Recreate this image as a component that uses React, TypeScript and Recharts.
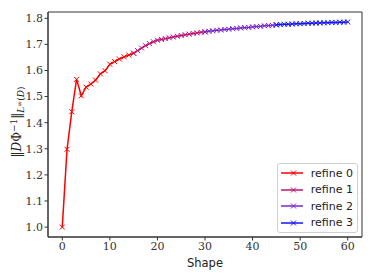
import React from "react";
import { LineChart, Line, XAxis, YAxis, ReferenceArea } from "recharts";

const refine0X = [0, 1, 2, 3, 4, 5, 6, 7, 8, 9, 10, 11, 12, 13, 14, 15];
const refine0Y = [1.0, 1.298, 1.442, 1.566, 1.503, 1.536, 1.548, 1.563, 1.587, 1.599, 1.624, 1.634, 1.644, 1.652, 1.659, 1.666];

const refine1X = [15, 15.83, 16.67, 17.5, 18.33, 19.17, 20, 20.83, 21.67, 22.5, 23.33, 24.17, 25, 25.83, 26.67, 27.5, 28.33, 29.17, 30];
const refine1Y = [1.666, 1.676, 1.686, 1.695, 1.703, 1.71, 1.716, 1.719, 1.722, 1.725, 1.728, 1.731, 1.734, 1.737, 1.739, 1.742, 1.744, 1.746, 1.748];

const refine2X = [30, 30.83, 31.67, 32.5, 33.33, 34.17, 35, 35.83, 36.67, 37.5, 38.33, 39.17, 40, 40.83, 41.67, 42.5, 43.33, 44.17, 45];
const refine2Y = [1.748, 1.75, 1.752, 1.754, 1.755, 1.757, 1.758, 1.76, 1.761, 1.763, 1.764, 1.765, 1.767, 1.768, 1.769, 1.771, 1.772, 1.773, 1.775];

const refine3X = [45, 45.83, 46.67, 47.5, 48.33, 49.17, 50, 50.83, 51.67, 52.5, 53.33, 54.17, 55, 55.83, 56.67, 57.5, 58.33, 59.17, 60];
const refine3Y = [1.775, 1.776, 1.777, 1.777, 1.778, 1.779, 1.779, 1.78, 1.781, 1.781, 1.782, 1.782, 1.783, 1.783, 1.784, 1.784, 1.785, 1.785, 1.786];

const seriesNames = ["refine 0", "refine 1", "refine 2", "refine 3"];
const seriesColors = ["#ff0000", "#bd1675", "#7a27cc", "#1414ff"];
const seriesX = [refine0X, refine1X, refine2X, refine3X];
const seriesY = [refine0Y, refine1Y, refine2Y, refine3Y];

const xTicks = [0, 10, 20, 30, 40, 50, 60];
const yTicks = [1.0, 1.1, 1.2, 1.3, 1.4, 1.5, 1.6, 1.7, 1.8];
const xDomain = [-3, 63];
const yDomain = [0.962, 1.824];

const series = seriesNames.map((name, i) => ({
  name,
  color: seriesColors[i],
  data: seriesX[i].map((x, j) => ({ x, y: seriesY[i][j] })),
}));

const makeDot = (color: string, name: string) => (props: any) => {
  const { cx, cy, index } = props;
  if (cx == null || cy == null) return <g key={`${name}-${index}`} />;
  const s = 2.5;
  return (
    <path
      key={`${name}-${index}`}
      d={`M${cx - s},${cy - s}L${cx + s},${cy + s}M${cx - s},${cy + s}L${cx + s},${cy - s}`}
      stroke={color}
      strokeWidth={1}
      fill="none"
    />
  );
};

const tickFont = { fontFamily: "DejaVu Serif", fontSize: 11, fill: "#333" };

const YLabel = () => (
  <text
    transform="rotate(-90)"
    x={-122}
    y={21}
    textAnchor="middle"
    fontFamily="DejaVu Serif"
    fontSize={12}
    fill="#222"
  >
    ‖<tspan fontStyle="italic">D</tspan>Φ
    <tspan dy={-4.5} fontSize={9}>−1</tspan>
    <tspan dy={4.5}>‖</tspan>
    <tspan dy={3} fontSize={9} fontStyle="italic">L</tspan>
    <tspan dy={-2.5} fontSize={7}>∞</tspan>
    <tspan dy={2.5} fontSize={9}>(</tspan>
    <tspan fontSize={9} fontStyle="italic">D</tspan>
    <tspan fontSize={9}>)</tspan>
  </text>
);

const LegendBox = () => (
  <div
    style={{
      position: "absolute",
      left: 277,
      top: 163,
      border: "1px solid #d0d0d0",
      borderRadius: 3,
      background: "rgba(255,255,255,0.85)",
      padding: "1px 4px 1px 3px",
      width: 72,
      boxSizing: "content-box",
    }}
  >
    {series.map((s) => (
      <div key={s.name} style={{ display: "flex", alignItems: "center", height: 16.5 }}>
        <svg width={25} height={10} style={{ marginRight: 8 }}>
          <line x1={0} y1={5} x2={25} y2={5} stroke={s.color} strokeWidth={1.5} />
          <path d="M10,2.5L15,7.5M10,7.5L15,2.5" stroke={s.color} strokeWidth={1} />
        </svg>
        <span style={{ fontFamily: "DejaVu Sans", fontSize: 11, color: "#222", whiteSpace: "nowrap" }}>
          {s.name}
        </span>
      </div>
    ))}
  </div>
);

export default function App() {
  return (
    <div style={{ position: "absolute", left: 0, top: 0, width: 374, height: 280 }}>
      <LineChart width={374} height={280} margin={{ top: 12, right: 12, left: 0, bottom: 0 }}>
        <XAxis
          type="number"
          dataKey="x"
          domain={xDomain}
          ticks={xTicks}
          allowDataOverflow
          tick={tickFont}
          tickSize={3.5}
          tickMargin={2}
          stroke="#333"
          height={43}
          label={{ value: "Shape", position: "insideBottom", offset: 13, style: { fontFamily: "DejaVu Sans", fontSize: 11.5, fill: "#222" } }}
        />
        <YAxis
          type="number"
          dataKey="y"
          domain={yDomain}
          ticks={yTicks}
          allowDataOverflow
          tickFormatter={(v: number) => v.toFixed(1)}
          tick={tickFont}
          tickSize={3.5}
          tickMargin={1.5}
          stroke="#333"
          width={48}
          label={<YLabel />}
        />
        <ReferenceArea
          x1={xDomain[0]}
          x2={xDomain[1]}
          y1={yDomain[0]}
          y2={yDomain[1]}
          fill="none"
          stroke="#333"
          strokeWidth={1}
          ifOverflow="extendDomain"
        />
        {series.map((s) => (
          <Line
            key={s.name}
            data={s.data}
            dataKey="y"
            name={s.name}
            type="linear"
            stroke={s.color}
            strokeWidth={1.5}
            dot={makeDot(s.color, s.name)}
            activeDot={false}
            isAnimationActive={false}
          />
        ))}
      </LineChart>
      <LegendBox />
    </div>
  );
}
